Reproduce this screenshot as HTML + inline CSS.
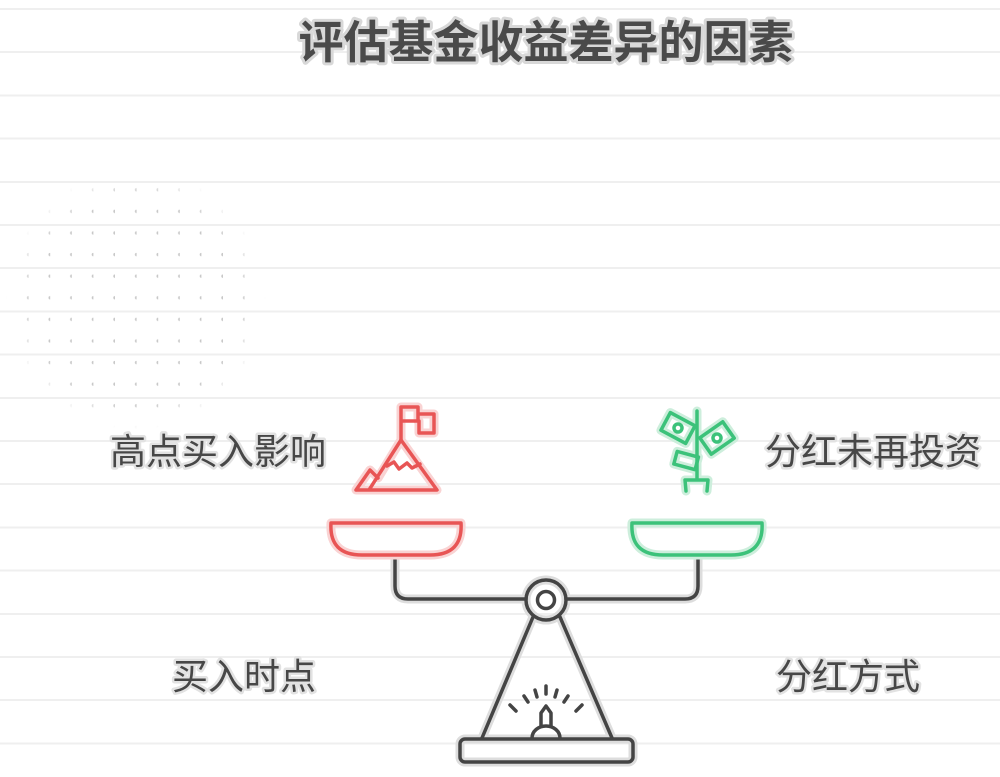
<!DOCTYPE html>
<html><head><meta charset="utf-8"><style>
html,body{margin:0;padding:0;background:#fff}
svg{display:block}
text{font-family:"Liberation Sans","Noto Sans CJK SC",sans-serif}
</style></head><body>
<svg width="1000" height="777" viewBox="0 0 1000 777" xmlns="http://www.w3.org/2000/svg">
<defs>
<pattern id="dots" x="7" y="9" width="21.6" height="21.6" patternUnits="userSpaceOnUse">
<circle cx="21.6" cy="8" r="1.7" fill="#c8c8c8"/>
</pattern>
<radialGradient id="fade" cx="0.5" cy="0.5" r="0.5">
<stop offset="0.8" stop-color="#fff" stop-opacity="1"/>
<stop offset="1" stop-color="#fff" stop-opacity="0"/>
</radialGradient>
<mask id="m"><circle cx="136" cy="300" r="130" fill="url(#fade)"/></mask>
</defs>
<g stroke="#efefef" stroke-width="2">
<line x1="0" y1="9" x2="1000" y2="9"/><line x1="0" y1="52" x2="1000" y2="52"/>
<line x1="0" y1="95.5" x2="1000" y2="95.5"/><line x1="0" y1="138.5" x2="1000" y2="138.5"/>
<line x1="0" y1="182" x2="1000" y2="182"/><line x1="0" y1="225" x2="1000" y2="225"/>
<line x1="0" y1="268" x2="1000" y2="268"/><line x1="0" y1="311.5" x2="1000" y2="311.5"/>
<line x1="0" y1="354.5" x2="1000" y2="354.5"/><line x1="0" y1="398" x2="1000" y2="398"/>
<line x1="0" y1="441" x2="1000" y2="441"/><line x1="0" y1="484" x2="1000" y2="484"/>
<line x1="0" y1="527.5" x2="1000" y2="527.5"/><line x1="0" y1="570.5" x2="1000" y2="570.5"/>
<line x1="0" y1="614" x2="1000" y2="614"/><line x1="0" y1="657" x2="1000" y2="657"/>
<line x1="0" y1="700" x2="1000" y2="700"/><line x1="0" y1="743.5" x2="1000" y2="743.5"/>
</g>
<rect x="0" y="170" width="280" height="260" fill="url(#dots)" mask="url(#m)"/>

<text x="546" y="58" text-anchor="middle" font-size="45" font-weight="bold" fill="#4a4a4a" stroke="#d8d8d8" stroke-width="6" paint-order="stroke" stroke-linejoin="round">评估基金收益差异的因素</text>

<g font-size="36" fill="#474747" stroke="#e2e2e2" stroke-width="5" paint-order="stroke" stroke-linejoin="round">
<text x="218" y="464" text-anchor="middle">高点买入影响</text>
<text x="873" y="464" text-anchor="middle">分红未再投资</text>
<text x="244" y="689" text-anchor="middle">买入时点</text>
<text x="848" y="689" text-anchor="middle">分红方式</text>
</g>

<g fill="none" stroke-linecap="round" stroke-linejoin="round">
<g stroke="#ddd" stroke-width="9">
<path d="M395,556 V586 Q395,599 408,599 H526 M566,599 H685 Q698,599 698,586 V556"/>
<circle cx="546" cy="600" r="20"/>
<path d="M533,617 L482,738 M560,617 L612,738"/>
<rect x="460" y="739" width="173" height="23" rx="5"/>
</g>
<g stroke="#444" stroke-width="3.5">
<path d="M395,556 V586 Q395,599 408,599 H526 M566,599 H685 Q698,599 698,586 V556"/>
<circle cx="546" cy="600" r="20"/>
<circle cx="546" cy="600" r="8.5"/>
<path d="M533,617 L482,738 M560,617 L612,738"/>
<rect x="460" y="739" width="173" height="23" rx="5"/>
<path d="M532,738 A14,12 0 0 1 560,738"/>
<path d="M541,726 V713 L546,706 L551,713 V726"/>
<path d="M546,686 V694 M535,690 L537,697 M557,690 L555,697 M524,696 L528,702 M568,696 L564,702 M510,705 L516,711 M582,705 L576,711"/>
</g>
<path d="M331,523 H461 Q463,555 430,555 H362 Q329,555 331,523 Z" stroke="#f9d3d3" stroke-width="9"/>
<path d="M331,523 H461 Q463,555 430,555 H362 Q329,555 331,523 Z" stroke="#e85555" stroke-width="3.5"/>
<path d="M632,523 H762 Q764,555 731,555 H663 Q630,555 632,523 Z" stroke="#cdeedc" stroke-width="9"/>
<path d="M632,523 H762 Q764,555 731,555 H663 Q630,555 632,523 Z" stroke="#3cc27a" stroke-width="3.5"/>
<g stroke="#f9d3d3" stroke-width="9">
<path d="M401,440 V407 H418 V421 M418,414 H434 V433 H419 V421"/>
<path d="M356,490 L370,470 L378,478 L401,440 L437,490 Z"/>
</g>
<g stroke="#e85555" stroke-width="3.5">
<path d="M401,440 V407 H418 V421 H402 M418,414 H434 V433 H419 V421"/>
<path d="M356,490 H369 M356,490 L370,470 L378,478 M369,490 L401,440 L437,490 Z"/>
<path d="M387,466 L394,462 L399,469 L407,463 L412,468 L420,464"/>
</g>
<g stroke="#cdeedc" stroke-width="9">
<path d="M697,411 V478 M686,491 L685,480 H708 L707,491"/>
<rect x="664" y="418" width="28" height="20" transform="rotate(28 678 428)"/>
<rect x="703" y="428" width="28" height="20" transform="rotate(-35 717 438)"/>
<rect x="675" y="454" width="22" height="13" transform="rotate(15 686 461)"/>
</g>
<g stroke="#3cc27a" stroke-width="3.5">
<path d="M697,411 V478 M686,491 L685,480 H708 L707,491"/>
<rect x="664" y="418" width="28" height="20" transform="rotate(28 678 428)"/>
<circle cx="678" cy="428" r="4"/>
<rect x="703" y="428" width="28" height="20" transform="rotate(-35 717 438)"/>
<circle cx="717" cy="438" r="4"/>
<rect x="675" y="454" width="22" height="13" transform="rotate(15 686 461)"/>
</g>
</g>
</svg>
</body></html>
